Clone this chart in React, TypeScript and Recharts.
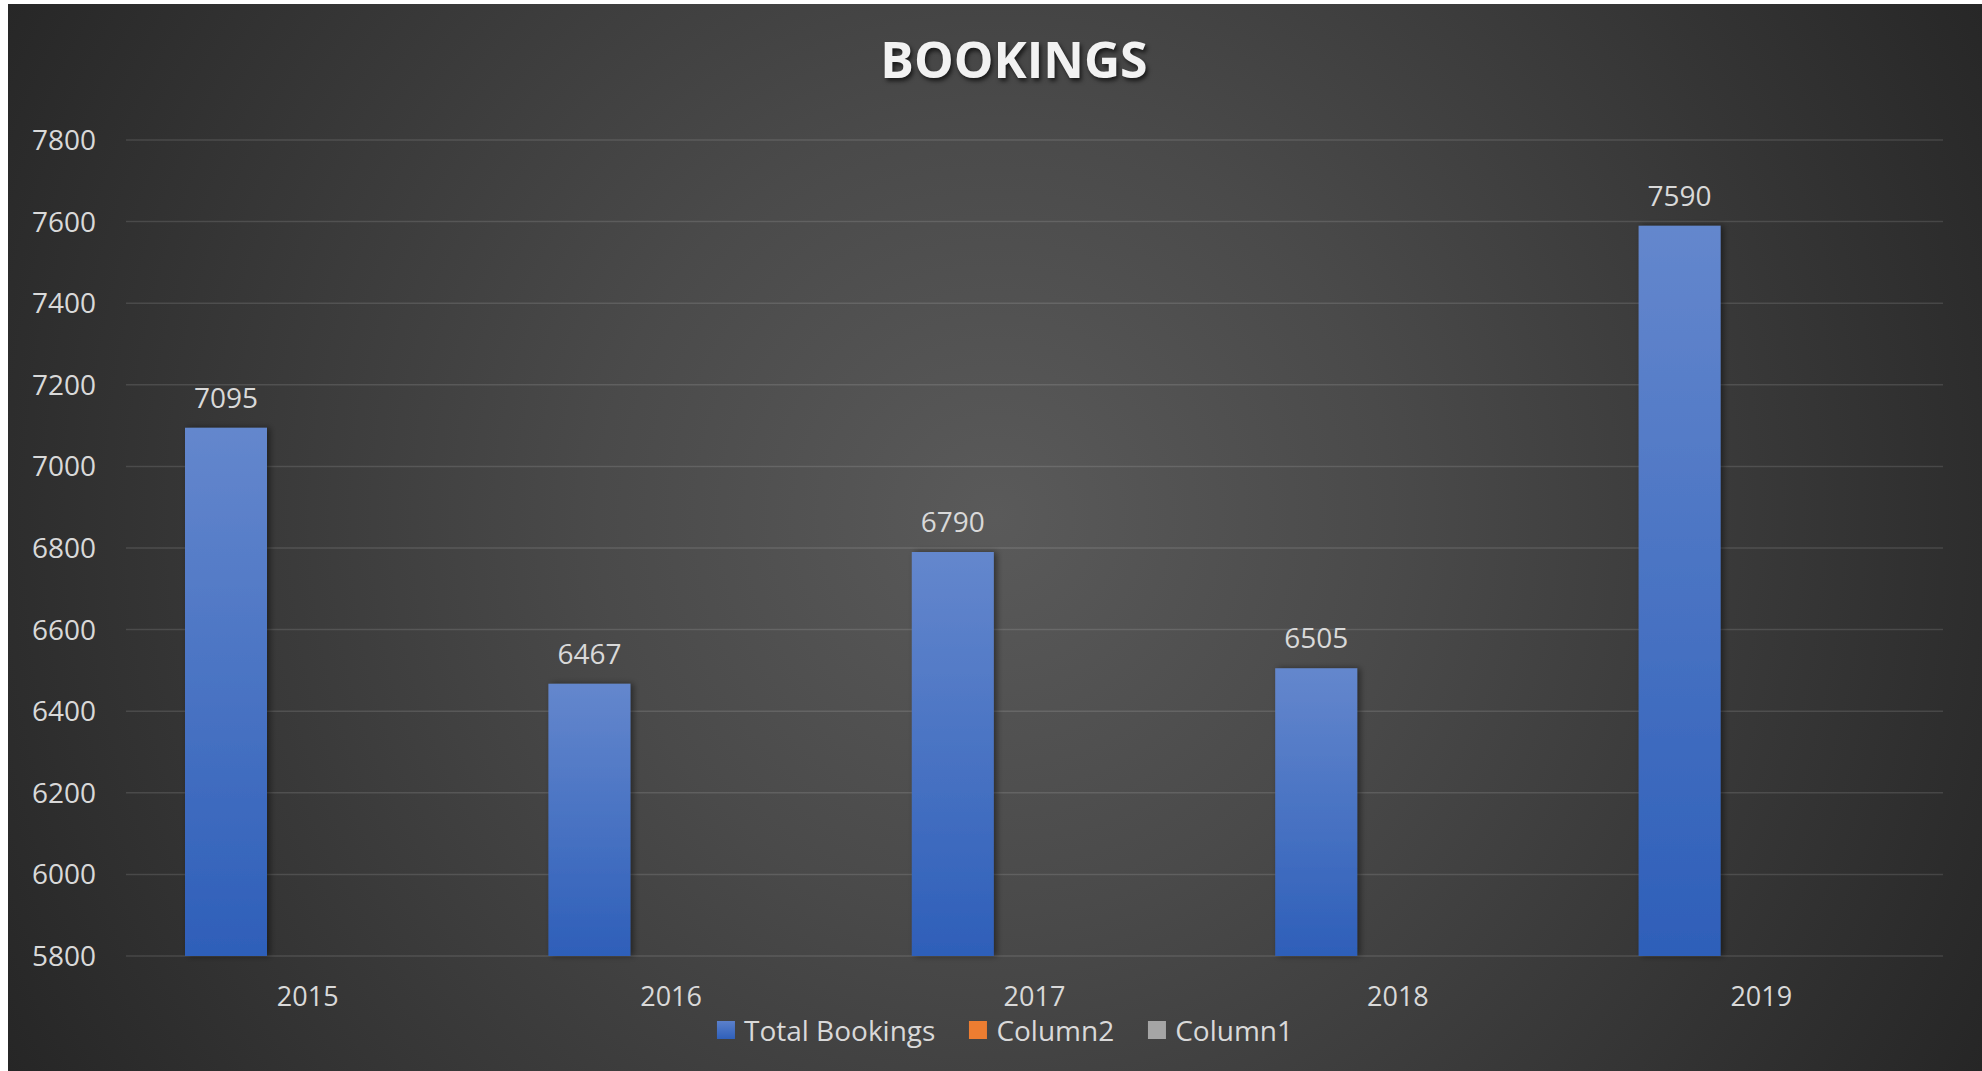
import React from 'react'
import { BarChart, Bar, XAxis, YAxis, CartesianGrid, LabelList } from 'recharts'

const years = ['2015', '2016', '2017', '2018', '2019']
const totalBookings = [7095, 6467, 6790, 6505, 7590]
const column2: (number | null)[] = [null, null, null, null, null]
const column1: (number | null)[] = [null, null, null, null, null]
const yTicks = [5800, 6000, 6200, 6400, 6600, 6800, 7000, 7200, 7400, 7600, 7800]

const series = [
  { key: 'total', name: 'Total Bookings', color: '#4472c4' },
  { key: 'col2', name: 'Column2', color: '#ed7d31' },
  { key: 'col1', name: 'Column1', color: '#a5a5a5' },
]

const data = years.map((year, i) => ({
  year,
  total: totalBookings[i],
  col2: column2[i],
  col1: column1[i],
}))

const W = 1974
const H = 1067
const FONT = '"Open Sans", "Noto Sans", sans-serif'
const TEXT = '#d9d9d9'

export default function App() {
  return (
    <div
      style={{
        position: 'absolute',
        left: 8,
        top: 4,
        width: W,
        height: H,
        fontFamily: FONT,
        background: 'radial-gradient(circle farthest-corner at 50% 48%, #5a5a5a 0%, #4a4a4a 35%, #262626 100%)',
        overflow: 'hidden',
      }}
    >
      <style>{'body{margin:0;overflow:hidden;background:#fff}'}</style>
      <div
        style={{
          position: 'absolute',
          left: 1006,
          top: 29,
          transform: 'translateX(-50%)',
          fontSize: 50,
          lineHeight: '52px',
          fontWeight: 700,
          color: '#f2f2f2',
          textShadow: '2px 3px 4px rgba(0,0,0,0.65)',
          whiteSpace: 'nowrap',
        }}
      >
        BOOKINGS
      </div>

      <BarChart
        width={W}
        height={H}
        data={data}
        margin={{ top: 136, right: 39, left: 0, bottom: 55 }}
        barGap={0}
        barSize={82}
      >
        <defs>
          <linearGradient id="blueFill" x1="0" y1="0" x2="0" y2="1">
            <stop offset="0%" stopColor="#6487cd" />
            <stop offset="100%" stopColor="#2e5fb9" />
          </linearGradient>
          <filter id="barShadow" x="-20%" y="-5%" width="150%" height="110%">
            <feDropShadow dx="3" dy="0" stdDeviation="3" floodColor="#000" floodOpacity="0.45" />
          </filter>
        </defs>
        <CartesianGrid vertical={false} stroke="#ffffff" strokeOpacity={0.12} strokeWidth={1.5} />
        <XAxis
          dataKey="year"
          height={60}
          axisLine={false}
          tickLine={false}
          tickSize={0}
          tickMargin={31}
          tick={{ fill: TEXT, fontSize: 27, fontFamily: FONT }}
        />
        <YAxis
          domain={[5800, 7800]}
          ticks={yTicks}
          width={118}
          axisLine={false}
          tickLine={false}
          tickSize={0}
          tickMargin={30}
          tick={{ fill: TEXT, fontSize: 28, fontFamily: FONT }}
        />
        <Bar dataKey="total" name="Total Bookings" fill="url(#blueFill)" filter="url(#barShadow)" isAnimationActive={false}>
          <LabelList dataKey="total" position="top" offset={20} fill={TEXT} fontSize={28} fontFamily={FONT} />
        </Bar>
        <Bar dataKey="col2" name="Column2" fill="#ed7d31" isAnimationActive={false} />
        <Bar dataKey="col1" name="Column1" fill="#a5a5a5" isAnimationActive={false} />
      </BarChart>

      <div
        style={{
          position: 'absolute',
          left: 997,
          top: 1030 - 4,
          transform: 'translate(-50%, -50%)',
          display: 'flex',
          alignItems: 'center',
          gap: 34,
          whiteSpace: 'nowrap',
        }}
      >
        {series.map(s => (
          <div key={s.key} style={{ display: 'flex', alignItems: 'center', gap: 9 }}>
            <span
              style={{
                display: 'inline-block',
                width: 18,
                height: 18,
                background: s.key === 'total' ? 'linear-gradient(#5b80cb, #2f60ba)' : s.color,
              }}
            />
            <span style={{ color: TEXT, fontSize: 28, lineHeight: '32px' }}>{s.name}</span>
          </div>
        ))}
      </div>
    </div>
  )
}
